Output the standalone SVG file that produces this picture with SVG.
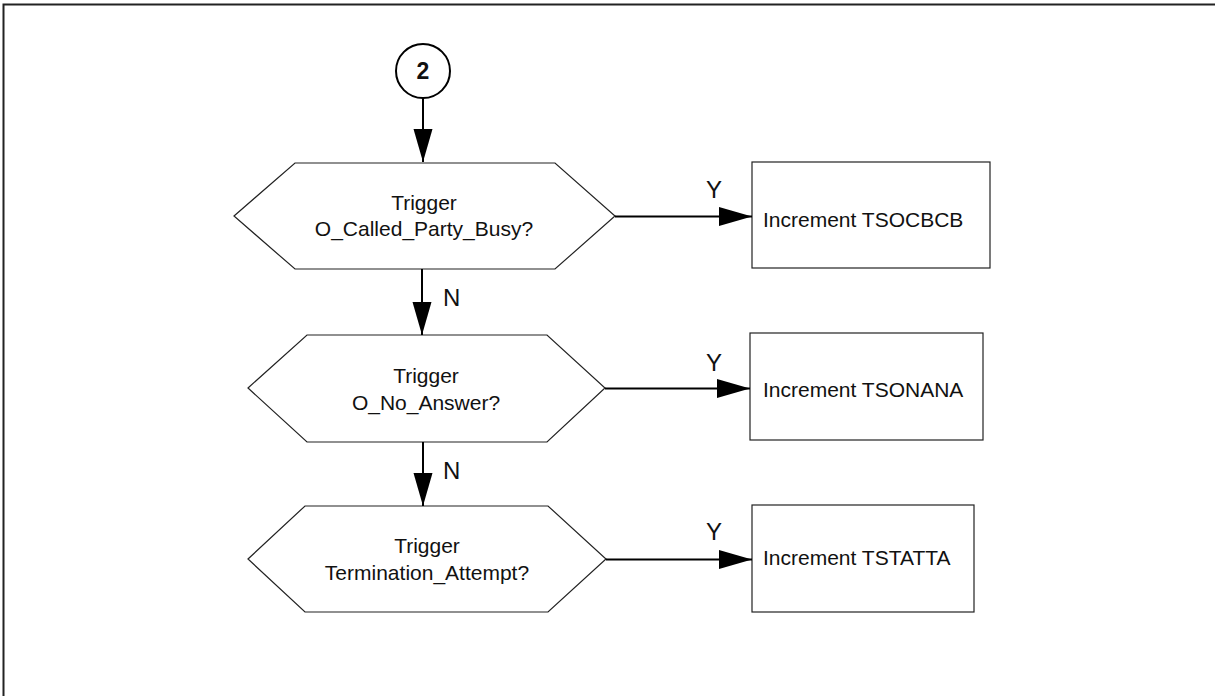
<svg xmlns="http://www.w3.org/2000/svg" width="1215" height="696" viewBox="0 0 1215 696">
  <style>
    .frame { fill: none; stroke: #222; stroke-width: 2; }
    .shape { fill: #fff; stroke: #222; stroke-width: 1.2; }
    .ring { fill: #fff; stroke: #000; stroke-width: 2; }
    .conn { fill: none; stroke: #000; stroke-width: 2; }
    .lbl { font-family: "Liberation Sans", Arial, sans-serif; font-size: 21px; fill: #111; }
    .mid { text-anchor: middle; }
    .yn { font-family: "Liberation Sans", Arial, sans-serif; font-size: 24px; fill: #111; }
    .num { font-family: "Liberation Sans", Arial, sans-serif; font-size: 23px; font-weight: bold; fill: #111; text-anchor: middle; }
  </style>
  <defs>
    <marker id="arrow" markerUnits="userSpaceOnUse" markerWidth="34" markerHeight="20" refX="33" refY="9.5" orient="auto">
      <path d="M0,0 L33,9.5 L0,19 Z" fill="#000"/>
    </marker>
  </defs>

  <rect width="1215" height="696" fill="#fff"/>
  <!-- page frame, running past the right and bottom edges -->
  <rect class="frame" x="3.5" y="4.5" width="1260" height="760"/>

  <g id="connector-2">
    <circle class="ring" cx="423" cy="71" r="27"/>
    <text class="num" x="423" y="79">2</text>
  </g>

  <g id="q-busy">
    <polygon class="shape" points="234,216 295,163 555,163 615,216 555,269 295,269"/>
    <text class="lbl mid" x="424" y="210">Trigger</text>
    <text class="lbl mid" x="424" y="236">O_Called_Party_Busy?</text>
  </g>

  <g id="inc-tsocbcb">
    <rect class="shape" x="752" y="162" width="238" height="106"/>
    <text class="lbl" x="763" y="227">Increment TSOCBCB</text>
  </g>

  <g id="q-noanswer">
    <polygon class="shape" points="248,388 307,335 547,335 605,388 547,442 307,442"/>
    <text class="lbl mid" x="426" y="383">Trigger</text>
    <text class="lbl mid" x="426" y="410">O_No_Answer?</text>
  </g>

  <g id="inc-tsonana">
    <rect class="shape" x="750" y="333" width="233" height="107"/>
    <text class="lbl" x="763" y="397">Increment TSONANA</text>
  </g>

  <g id="q-termattempt">
    <polygon class="shape" points="248,559 305,506 548,506 606,559 548,612 305,612"/>
    <text class="lbl mid" x="427" y="553">Trigger</text>
    <text class="lbl mid" x="427" y="580">Termination_Attempt?</text>
  </g>

  <g id="inc-tstatta">
    <rect class="shape" x="752" y="505" width="222" height="107"/>
    <text class="lbl" x="763" y="565">Increment TSTATTA</text>
  </g>

  <g id="connectors">
    <line class="conn" x1="423" y1="98" x2="423" y2="162" marker-end="url(#arrow)"/>
    <line class="conn" x1="615" y1="216.5" x2="752" y2="216.5" marker-end="url(#arrow)"/>
    <text class="yn" x="706" y="198">Y</text>
    <line class="conn" x1="422" y1="269" x2="422" y2="335" marker-end="url(#arrow)"/>
    <text class="yn" x="443" y="306">N</text>
    <line class="conn" x1="605" y1="388.5" x2="750" y2="388.5" marker-end="url(#arrow)"/>
    <text class="yn" x="706" y="371">Y</text>
    <line class="conn" x1="423" y1="442" x2="423" y2="506" marker-end="url(#arrow)"/>
    <text class="yn" x="443" y="479">N</text>
    <line class="conn" x1="606" y1="559.5" x2="752" y2="559.5" marker-end="url(#arrow)"/>
    <text class="yn" x="706" y="540">Y</text>
  </g>
</svg>
